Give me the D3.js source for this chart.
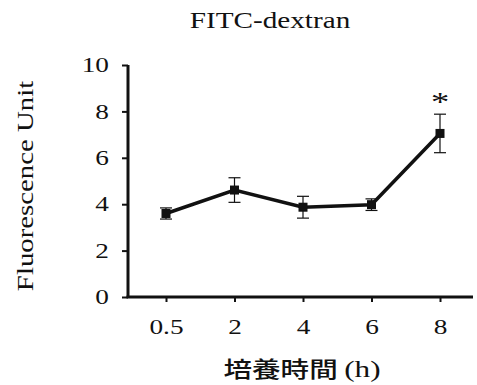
<!DOCTYPE html>
<html>
<head>
<meta charset="utf-8">
<script src="https://cdn.jsdelivr.net/npm/d3@7"></script>
<style>
  body { margin: 0; background: #fff; }
  text { font-family: "Liberation Serif", "DejaVu Serif", serif; fill: #111; }
</style>
</head>
<body>
<div id="chart"></div>
<script>
// data
const times = ["0.5", "2", "4", "6", "8"];
const means = [3.6, 4.61, 3.87, 3.98, 7.05];
const errs = [0.24, 0.53, 0.47, 0.25, 0.83];
const yTicks = [0, 2, 4, 6, 8, 10];
const signif = ["", "", "", "", "*"];

const W = 477, H = 385;
const sx = 1.3; // the text in the picture is wide
const svg = d3.select("#chart").append("svg")
  .attr("width", W).attr("height", H);

// plot area
const pLeft = 128, pRight = 473, pTop = 65, pBottom = 297;

let x = d3.scalePoint()
  .domain(times)
  .range([166, 440]);
let y = d3.scaleLinear()
  .domain([0, 10])
  .range([pBottom, pTop]);

let rows = times.map((t, i) => ({ t: t, m: means[i], e: errs[i], s: signif[i] }));

// y axis
let ya = svg.append("g")
  .attr("transform", "translate(" + pLeft + ",0)")
  .call(d3.axisLeft(y).tickValues(yTicks).tickSize(6).tickPadding(8).tickFormat(d3.format("d")));
ya.select(".domain").attr("stroke", "#111").attr("stroke-width", 3)
  .attr("d", "M0," + pTop + "V" + pBottom);
ya.selectAll(".tick line").attr("stroke", "#111").attr("stroke-width", 2);
ya.selectAll(".tick text")
  .attr("font-size", 21).attr("font-family", "Liberation Serif").attr("fill", "#111")
  .attr("x", 0)
  .attr("transform", "translate(-19,0) scale(" + sx + ",1)");

// x axis
let xa = svg.append("g")
  .attr("transform", "translate(0," + pBottom + ")")
  .call(d3.axisBottom(x).tickSize(5).tickPadding(17));
xa.select(".domain").attr("stroke", "#111").attr("stroke-width", 3)
  .attr("d", "M" + (pLeft - 1.5) + ",0H" + pRight);
xa.selectAll(".tick line").attr("stroke", "#111").attr("stroke-width", 2);
xa.selectAll(".tick text")
  .attr("font-size", 21).attr("font-family", "Liberation Serif").attr("fill", "#111")
  .attr("transform", "scale(" + sx + ",1)");

// error bars
let eb = svg.append("g").selectAll("g").data(rows).enter().append("g");
eb.append("line")
  .attr("x1", d => x(d.t)).attr("x2", d => x(d.t))
  .attr("y1", d => y(d.m - d.e)).attr("y2", d => y(d.m + d.e))
  .attr("stroke", "#111").attr("stroke-width", 1.2);
eb.append("line")
  .attr("x1", d => x(d.t) - 6).attr("x2", d => x(d.t) + 6)
  .attr("y1", d => y(d.m + d.e)).attr("y2", d => y(d.m + d.e))
  .attr("stroke", "#111").attr("stroke-width", 1.2);
eb.append("line")
  .attr("x1", d => x(d.t) - 6).attr("x2", d => x(d.t) + 6)
  .attr("y1", d => y(d.m - d.e)).attr("y2", d => y(d.m - d.e))
  .attr("stroke", "#111").attr("stroke-width", 1.2);

// line
svg.append("path")
  .datum(rows)
  .attr("fill", "none")
  .attr("stroke", "#111")
  .attr("stroke-width", 3.5)
  .attr("d", d3.line().x(d => x(d.t)).y(d => y(d.m)));

// markers
svg.selectAll(".pt").data(rows).enter().append("rect")
  .attr("class", "pt")
  .attr("x", d => x(d.t) - 4.5).attr("y", d => y(d.m) - 4.5)
  .attr("width", 9).attr("height", 9)
  .attr("fill", "#111");

// significance
svg.selectAll(".sig").data(rows).enter().append("text")
  .attr("class", "sig")
  .attr("transform", d => "translate(" + x(d.t) + "," + (y(d.m + d.e) - 3) + ") scale(" + sx + ",1)")
  .attr("text-anchor", "middle")
  .attr("font-size", 28)
  .text(d => d.s);

// title
svg.append("text")
  .attr("transform", "translate(270,28) scale(1.27,1)")
  .attr("text-anchor", "middle")
  .attr("font-size", 23)
  .text("FITC-dextran");

// y label
svg.append("text")
  .attr("transform", "translate(33,186) rotate(-90) scale(1.2,1)")
  .attr("text-anchor", "middle")
  .attr("font-size", 24)
  .text("Fluorescence Unit");

// x label
let xl = svg.append("text")
  .attr("transform", "translate(302,377) scale(" + sx + ",1)")
  .attr("text-anchor", "middle")
  .attr("font-size", 22);
xl.append("tspan").attr("font-family", "Noto Sans CJK JP").attr("font-weight", 500).text("培養時間 ");
xl.append("tspan").attr("font-family", "Liberation Serif").attr("font-size", 24).text("(h)");
</script>
</body>
</html>
